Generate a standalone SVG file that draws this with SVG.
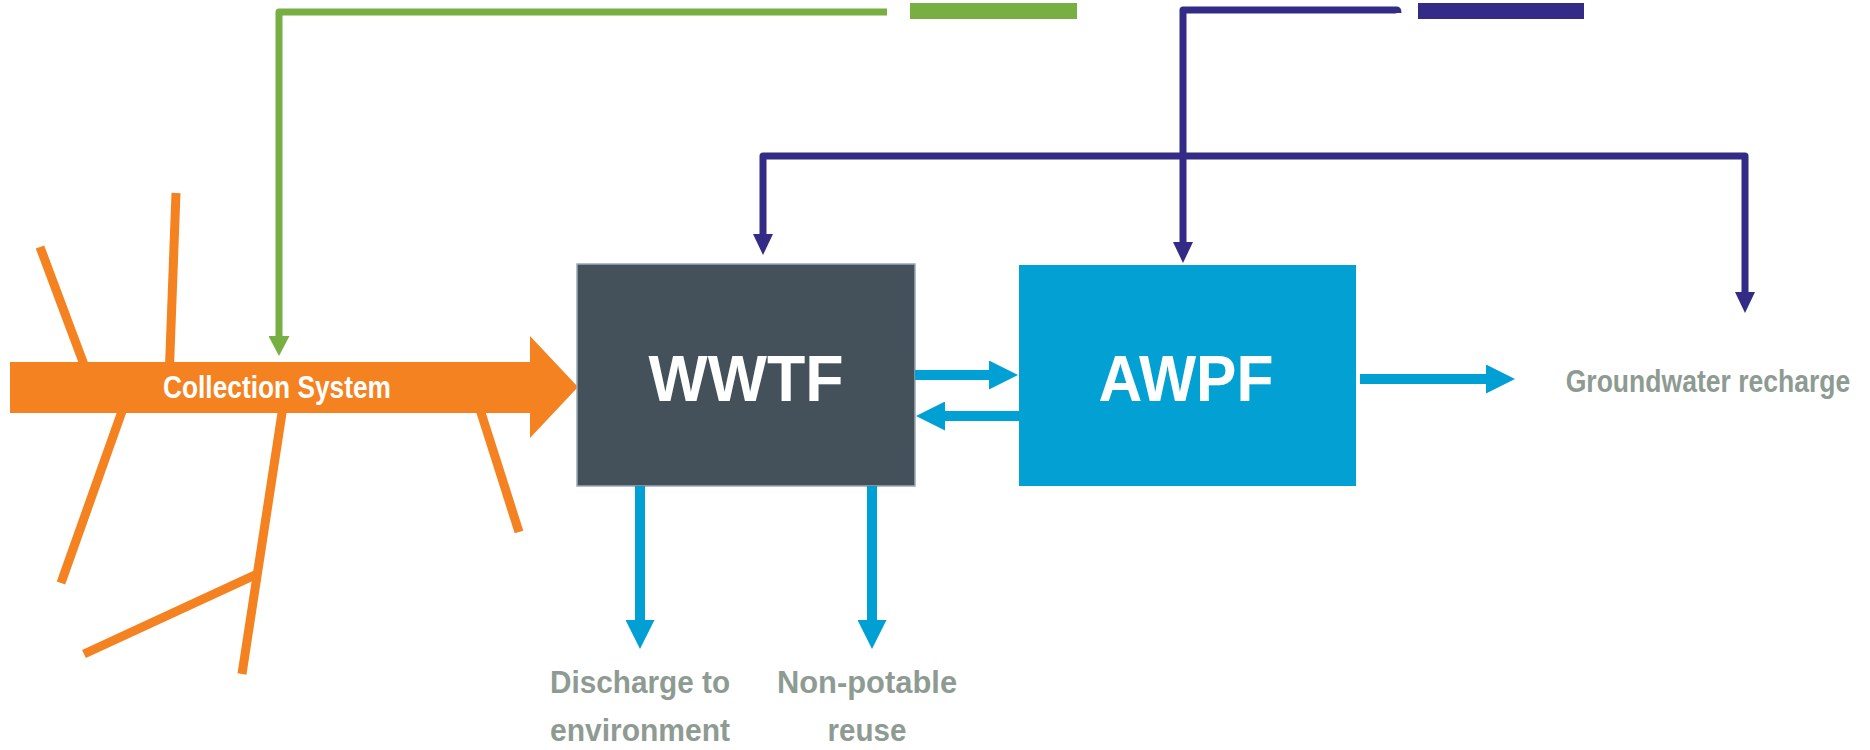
<svg xmlns="http://www.w3.org/2000/svg" width="1870" height="750" viewBox="0 0 1870 750">
<style>
.pipe{stroke:#F58220;stroke-width:9;fill:none;stroke-linecap:butt}
.grn{stroke:#77AF43;stroke-width:7;fill:none;stroke-linejoin:round}
.pur{stroke:#332B86;stroke-width:7;fill:none;stroke-linejoin:round}
.blu{stroke:#009FD4;stroke-width:10;fill:none}
.big{font-family:"Liberation Sans",Arial,sans-serif;font-size:64px;font-weight:bold;fill:#FFFFFF;text-anchor:middle}
.lbl{font-family:"Liberation Sans",Arial,sans-serif;font-size:32px;font-weight:bold;fill:#8E9B93;text-anchor:middle}
.inn{font-family:"Liberation Sans",Arial,sans-serif;font-size:32px;font-weight:bold;fill:#FFFFFF;text-anchor:middle}
</style>
<defs>
<marker id="mg" markerUnits="userSpaceOnUse" markerWidth="20" markerHeight="21" viewBox="0 0 20 21" refX="0" refY="10.5" orient="auto"><path d="M0,0 L20,10.5 L0,21 z" fill="#77AF43"/></marker>
<marker id="mp" markerUnits="userSpaceOnUse" markerWidth="21" markerHeight="20" viewBox="0 0 21 20" refX="0" refY="10" orient="auto-start-reverse"><path d="M0,0 L21,10 L0,20 z" fill="#332B86"/></marker>
<marker id="mb" markerUnits="userSpaceOnUse" markerWidth="29" markerHeight="29" viewBox="0 0 29 29" refX="0" refY="14.5" orient="auto"><path d="M0,0 L29,14.5 L0,29 z" fill="#009FD4"/></marker>
</defs>

<g id="collection-system">
<path class="pipe" d="M40,247 L89,378"/>
<path class="pipe" d="M176,193 L169,380"/>
<path class="pipe" d="M126,400 L61,583"/>
<path class="pipe" d="M284,400 L242,674"/>
<path class="pipe" d="M84,654 L257,574"/>
<path class="pipe" d="M477,400 L519,532"/>
<polygon points="10,362 530,362 530,336 578,387 530,438 530,413 10,413" fill="#F58220"/>
<text class="inn" transform="translate(277,398) scale(0.8,1)" x="0" y="0" textLength="285" lengthAdjust="spacingAndGlyphs">Collection System</text>
</g>

<g id="wwtf">
<rect x="577" y="264" width="338" height="222" fill="#44515A" stroke="#9AABB5" stroke-width="1.5"/>
<text class="big" x="746" y="401" textLength="195" lengthAdjust="spacingAndGlyphs">WWTF</text>
</g>

<g id="awpf">
<rect x="1019" y="265" width="337" height="221" fill="#02A0D3"/>
<text class="big" x="1186" y="401" textLength="175" lengthAdjust="spacingAndGlyphs">AWPF</text>
</g>

<g id="green-source">
<rect x="910" y="3" width="167" height="16" fill="#77AF43"/>
</g>
<g id="purple-source">
<rect x="1418" y="3" width="166" height="16" fill="#332B86"/>
</g>

<g id="groundwater-recharge">
<text class="lbl" transform="translate(1708,392) scale(0.83,1)" x="0" y="0" textLength="343" lengthAdjust="spacingAndGlyphs">Groundwater recharge</text>
</g>
<g id="discharge">
<text class="lbl" transform="translate(640,693) scale(0.83,1)" x="0" y="0" textLength="217" lengthAdjust="spacingAndGlyphs">Discharge to</text>
<text class="lbl" transform="translate(640,741) scale(0.83,1)" x="0" y="0" textLength="217" lengthAdjust="spacingAndGlyphs">environment</text>
</g>
<g id="non-potable">
<text class="lbl" transform="translate(867,693) scale(0.83,1)" x="0" y="0" textLength="217" lengthAdjust="spacingAndGlyphs">Non-potable</text>
<text class="lbl" transform="translate(867,741) scale(0.83,1)" x="0" y="0" textLength="95" lengthAdjust="spacingAndGlyphs">reuse</text>
</g>

<g id="connectors">
<path class="grn" d="M887,12 L279,12 L279,336" marker-end="url(#mg)"/>
<path class="pur" d="M1397,10 Q1398,10 1398,13 M1397,10 L1183,10 L1183,242" marker-end="url(#mp)"/>
<path class="pur" d="M763,234 L763,156 L1745,156 L1745,292" marker-start="url(#mp)" marker-end="url(#mp)"/>
<path class="blu" d="M915,375 L989,375" marker-end="url(#mb)"/>
<path class="blu" d="M1019,416 L945,416" marker-end="url(#mb)"/>
<path class="blu" d="M1360,379 L1486,379" marker-end="url(#mb)"/>
<path class="blu" d="M640,486 L640,620" marker-end="url(#mb)"/>
<path class="blu" d="M872,486 L872,620" marker-end="url(#mb)"/>
</g>
</svg>
